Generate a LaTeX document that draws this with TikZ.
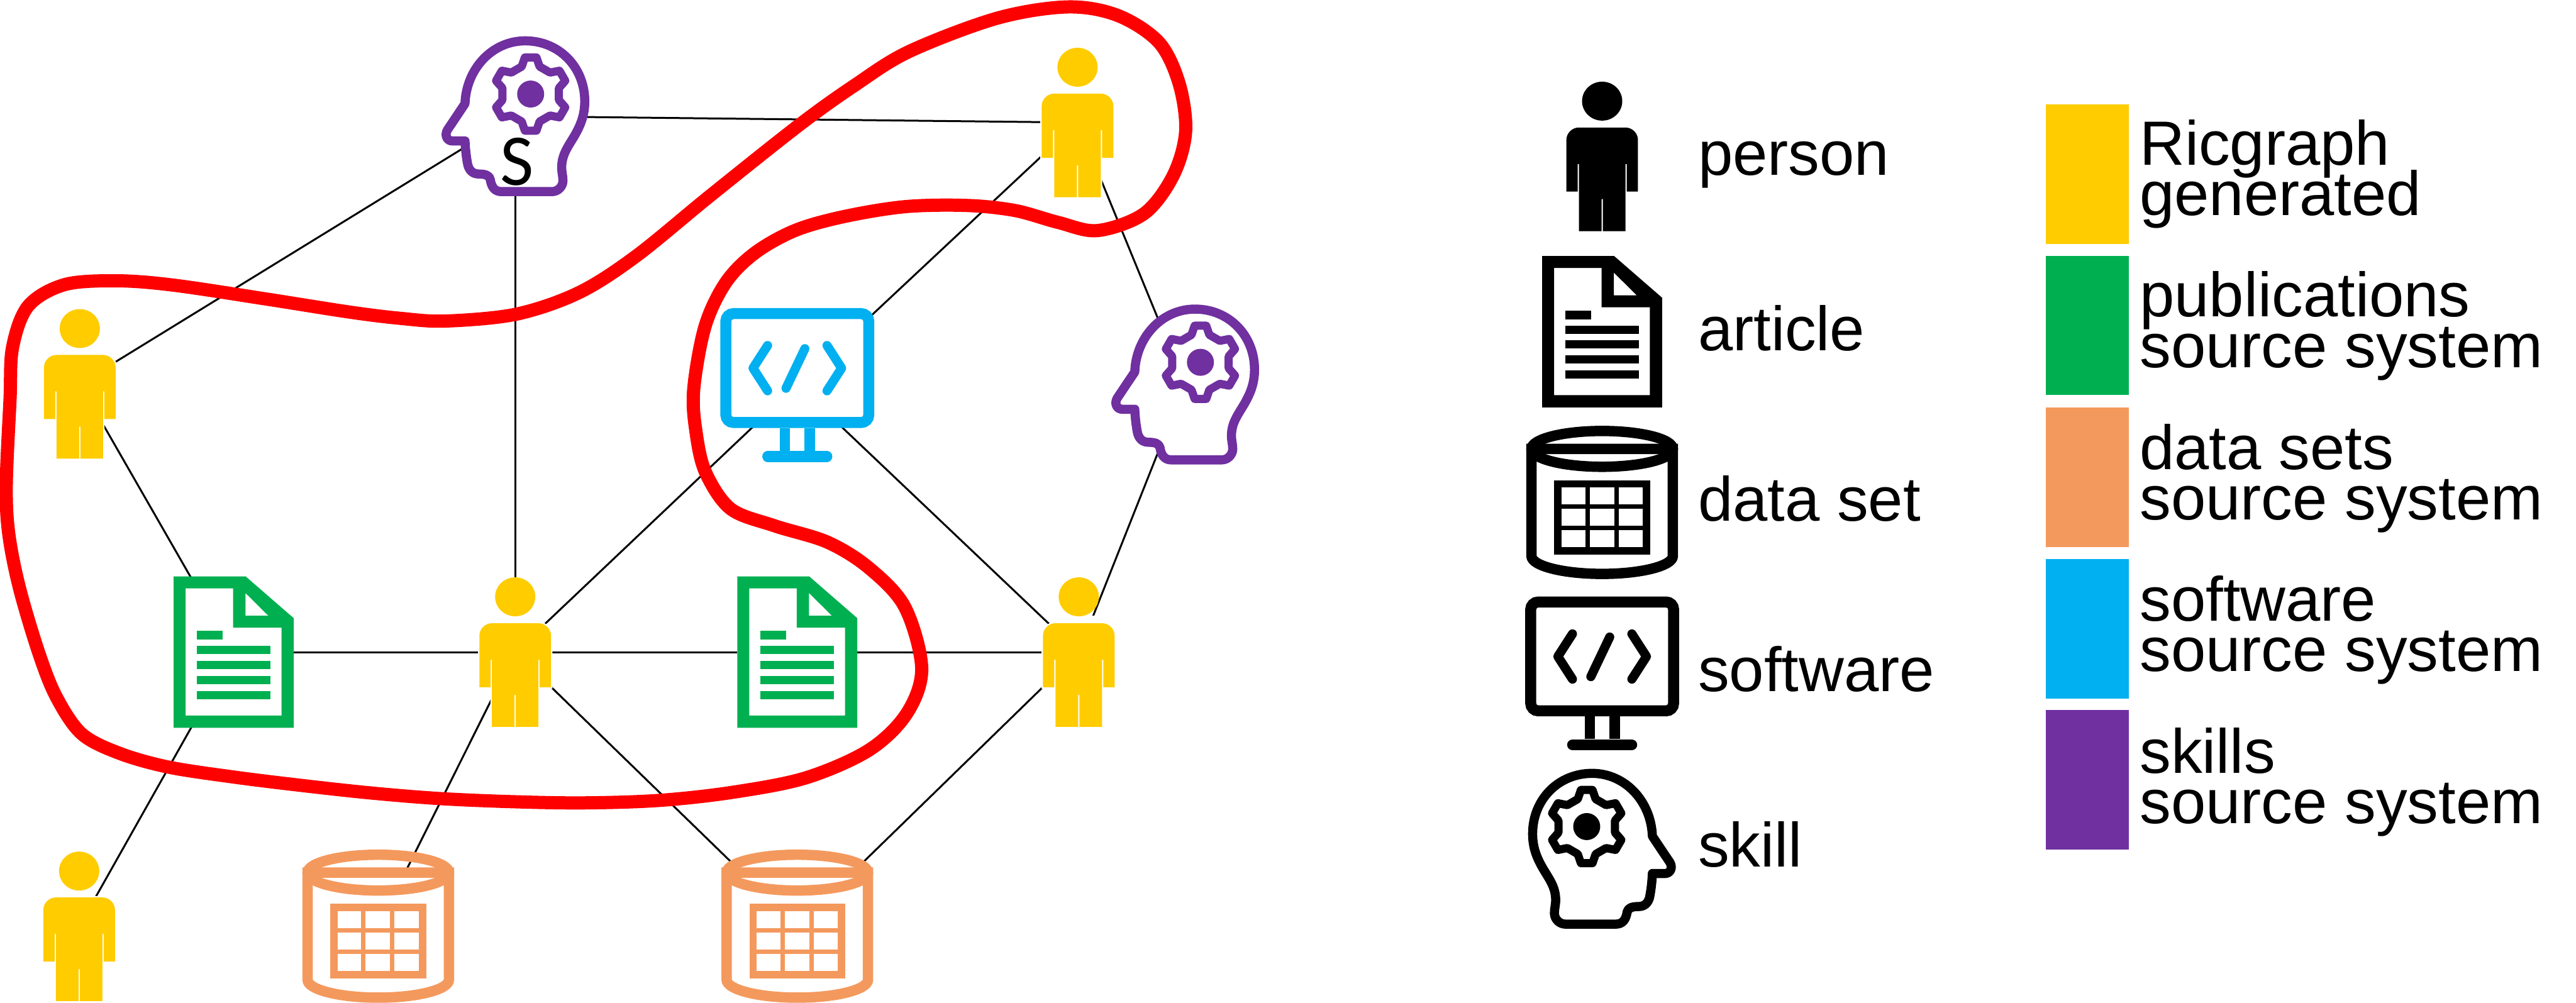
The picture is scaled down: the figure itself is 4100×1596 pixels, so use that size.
\documentclass[tikz,border=0pt]{standalone}
\usepackage{fontspec}
\setmainfont{Liberation Sans}
\newfontfamily\headfont{Carlito}
\usepackage{xcolor}
\definecolor{gold}{HTML}{FFCC00}
\definecolor{pubgreen}{HTML}{00B050}
\definecolor{dataorange}{HTML}{F4995D}
\definecolor{softblue}{HTML}{00B0F0}
\definecolor{skillpurple}{HTML}{7030A0}
\definecolor{loopred}{HTML}{FF0000}
\tikzset{
  link/.style={draw=black, line width=0.03cm},
  redloop/.style={draw=loopred, line width=0.21cm},
  personbox/.style={inner sep=0pt, minimum width=1.14cm, minimum height=2.38cm},
  articlebox/.style={inner sep=0pt, minimum width=1.91cm, minimum height=2.41cm},
  databox/.style={inner sep=0pt, minimum width=2.42cm, minimum height=2.43cm},
  monitorbox/.style={inner sep=0pt, minimum width=2.44cm, minimum height=2.45cm},
  headbox/.style={inner sep=0pt, minimum width=2.36cm, minimum height=2.55cm},
  swatch/.style={inner sep=0pt, minimum width=1.32cm, minimum height=2.22cm},
  labl/.style={inner sep=0pt, anchor=base west, font=\fontsize{28.3}{22.8}\selectfont},
  labr/.style={inner sep=0pt, anchor=base west, align=left, font={\fontsize{28.3}{22.8}\selectfont\lineskiplimit -100pt\relax}},
  pics/personicon/.style={code={
    \fill[white] (-25,-58) rectangle (25,-44);
    \fill[#1] (0,-88) ellipse [x radius=32, y radius=31];
    \fill[#1, preaction={draw=white, line width=0.045cm}]
      (-57,56) -- (-57,-26) .. controls (-57,-37) and (-48,-46) .. (-37,-46)
      -- (37,-46) .. controls (48,-46) and (57,-37) .. (57,-26) -- (57,56)
      -- (39,56) -- (39,12) -- (37,12) -- (37,119) -- (1,119) -- (1,68)
      -- (-1,68) -- (-1,119) -- (-37,119) -- (-37,12) -- (-39,12) -- (-39,56) -- cycle;
  }},
  pics/articleicon/.style={code={
    \fill[white] (-95.5,-120.5) rectangle (95.5,120.5);
    \fill[#1, even odd rule]
      (-95.5,-120.5) -- (19,-120.5) -- (95.5,-54) -- (95.5,120.5) -- (-95.5,120.5) -- cycle
      (-76.5,-101.5) -- (-1,-101.5) -- (-1,-39) -- (76,-39) -- (76,101) -- (-76.5,101) -- cycle
      (18.7,-94) -- (18.7,-58) -- (55,-58) -- cycle;
    \fill[#1] (-59,-34) rectangle (-18,-20);
    \fill[#1] (-59,-10) rectangle (58.5,3);
    \fill[#1] (-59,14) rectangle (58.5,27);
    \fill[#1] (-59,38) rectangle (58.5,51);
    \fill[#1] (-59,62) rectangle (58.5,75);
  }},
  pics/dataicon/.style={code={
    \filldraw[draw=#1, fill=white, line width=0.165cm]
      (-112.5,-85.5) -- (-112.5,85) .. controls (-112.5,100.7) and (-62,113.5) .. (0,113.5)
      .. controls (62,113.5) and (112.5,100.7) .. (112.5,85) -- (112.5,-85.5) -- cycle;
    \draw[#1, line width=0.165cm] (0,-85.5) ellipse [x radius=112.5, y radius=28.5];
    \draw[#1, line width=0.115cm] (-70.5,-30) rectangle (70.5,77);
    \draw[#1, line width=0.07cm] (-23.5,-30) -- (-23.5,77) (22.5,-30) -- (22.5,77)
      (-70.5,6.5) -- (70.5,6.5) (-70.5,40.5) -- (70.5,40.5);
  }},
  pics/monitoricon/.style={code={
    \filldraw[draw=#1, fill=white, line width=0.175cm, rounded corners=0.12cm]
      (-113.7,-113.3) rectangle (113.7,60);
    \fill[#1] (-28,69) rectangle (-12,105);
    \fill[#1] (11,69) rectangle (28,105);
    \draw[#1, line width=0.175cm, line cap=round] (-47,114) -- (47,114);
    \draw[#1, line width=0.145cm, line cap=round, line join=round]
      (-47.3,-62.5) -- (-70.5,-26.5) -- (-47.3,9.5)
      (47.3,-62.5) -- (70.5,-26.5) -- (47.3,9.5)
      (12,-57.5) -- (-18,5.5);
  }},
  pics/headicon/.style={code={
    \filldraw[draw=#1, fill=white, line width=0.145cm, line join=round]
      (-58.5,120) -- (21.9,120) .. controls (33,120) and (38,112) .. (39.7,100.7)
      .. controls (41,94) and (48,92) .. (57.6,92)
      .. controls (68,92) and (73,86) .. (75.4,77.7)
      .. controls (78,65) and (79.5,50) .. (79.9,39.4)
      -- (100,39.4) .. controls (108,39.4) and (113,31) .. (108,22)
      -- (79.9,-20)
      .. controls (78,-75) and (37,-120) .. (-16,-120)
      .. controls (-70,-120) and (-110.7,-78) .. (-110.7,-23.8)
      .. controls (-110.7,0) and (-103,16) .. (-94,31.8)
      .. controls (-83,50) and (-74,62) .. (-74,81.6)
      .. controls (-74,90) and (-76,95) .. (-76,102.6)
      .. controls (-76,112) and (-68,120) .. (-58.5,120) -- cycle;
    \begin{scope}[shift={(-24.6,-35.3)}]
      \draw[#1, line width=0.13cm, line join=round] (108:46)
        \foreach \a in {90,30,-30,-90,-150,-210} { -- (\a+18:46) -- (\a+9:59) -- (\a-9:59) -- (\a-18:46) } -- cycle;
      \fill[#1] (0,0) circle [radius=21.5];
    \end{scope}
  }}
}
\begin{document}
\begin{tikzpicture}[x=0.01cm, y=-0.01cm]
  \useasboundingbox (0,0) rectangle (4100,1596);
  \fill[white] (0,0) rectangle (4100,1596);

  % graph nodes
  \node[headbox] (headS) at (820,185) {};
  \node[personbox] (persTop) at (1715,195) {};
  \node[personbox] (persLeft) at (127,611) {};
  \node[monitorbox] (screen) at (1269,612.5) {};
  \node[headbox] (headR) at (1886,612) {};
  \node[articlebox] (artA) at (372,1038) {};
  \node[personbox] (persMid) at (820,1038) {};
  \node[articlebox] (artB) at (1269,1038) {};
  \node[personbox] (persRight) at (1717,1038) {};
  \node[personbox] (persLow) at (126,1474.5) {};
  \node[databox] (dataA) at (602,1474.5) {};
  \node[databox] (dataB) at (1269,1474.5) {};

  % connectors, icons go on top
  \draw[link] (headS.center) -- (persTop.center);
  \draw[link] (headS.center) -- (persLeft.center);
  \draw[link] (headS.center) -- (persMid.center);
  \draw[link] (persLeft.center) -- (artA.center);
  \draw[link] (artA.center) -- (persMid.center);
  \draw[link] (persMid.center) -- (artB.center);
  \draw[link] (artB.center) -- (persRight.center);
  \draw[link] (artA.center) -- (persLow.center);
  \draw[link] (persMid.center) -- (screen.center);
  \draw[link] (persTop.center) -- (screen.center);
  \draw[link] (screen.center) -- (persRight.center);
  \draw[link] (persMid.center) -- (dataA.center);
  \draw[link] (persMid.center) -- (dataB.center);
  \draw[link] (persRight.center) -- (dataB.center);
  \draw[link] (persRight.center) -- (headR.center);
  \draw[link] (persTop.center) -- (headR.center);

  \pic[xscale=-1] at (headS) {headicon=skillpurple};
  \node[inner sep=0pt, font=\headfont\fontsize{33}{33}\selectfont] (letterS) at (822.5,258) {S};
  \pic[xscale=-1] at (headR) {headicon=skillpurple};
  \pic at (persTop) {personicon=gold};
  \pic at (persLeft) {personicon=gold};
  \pic at (persMid) {personicon=gold};
  \pic at (persRight) {personicon=gold};
  \pic at (persLow) {personicon=gold};
  \pic at (screen) {monitoricon=softblue};
  \pic at (artA) {articleicon=pubgreen};
  \pic at (artB) {articleicon=pubgreen};
  \pic at (dataA) {dataicon=dataorange};
  \pic at (dataB) {dataicon=dataorange};

  % the red selection
  \draw[redloop] plot[smooth cycle, tension=0.55] coordinates {
    (1700,11) (1780,25) (1845,68) (1877,134) (1887,210) (1867,280) (1821,340)
    (1747,367) (1684,354) (1615,335) (1538,327) (1440,329) (1342,345) (1265,367)
    (1201,403) (1155,450) (1122,520) (1104,621) (1108,689) (1123,752) (1163,810)
    (1233,837) (1317,863) (1383,904) (1440,966) (1467,1064) (1443,1136) (1383,1194)
    (1283,1238) (1167,1261) (1050,1274) (928,1278) (813,1276) (698,1271) (588,1262)
    (478,1250) (373,1237) (268,1221) (190,1199) (130,1168) (90,1110) (62,1040)
    (31,936) (14,850) (10,772) (16,635) (20,553) (45,487) (103,453) (187,447)
    (277,454) (424,476) (558,497) (640,507) (710,511) (822,500) (921,466)
    (1012,408) (1131,311) (1272,199) (1360,136) (1447,82) (1587,29)};

  % icon legend
  \node[personbox] (legPerson) at (2550,249) {};
  \node[articlebox] (legArticle) at (2550,528) {};
  \node[databox] (legData) at (2550,800) {};
  \node[monitorbox] (legSoft) at (2550,1071.5) {};
  \node[headbox] (legSkill) at (2550,1351) {};
  \pic at (legPerson) {personicon=black};
  \pic at (legArticle) {articleicon=black};
  \pic at (legData) {dataicon=black};
  \pic at (legSoft) {monitoricon=black};
  \pic at (legSkill) {headicon=black};
  \node[labl] (txtPerson) at (2702,278.6) {person};
  \node[labl] (txtArticle) at (2702,557.6) {article};
  \node[labl] (txtData) at (2702,829.6) {data set};
  \node[labl] (txtSoft) at (2702,1100.8) {software};
  \node[labl] (txtSkill) at (2702,1379.7) {skill};

  % colour legend
  \node[swatch, fill=gold] (swGen) at (3322,277) {};
  \node[swatch, fill=pubgreen] (swPub) at (3322,518) {};
  \node[swatch, fill=dataorange] (swData) at (3322,759.5) {};
  \node[swatch, fill=softblue] (swSoft) at (3322,1000.5) {};
  \node[swatch, fill=skillpurple] (swSkill) at (3322,1241.5) {};
  \node[labr] (txtGen) at (3405,343) {Ricgraph\\generated};
  \node[labr] (txtPub) at (3405,584.6) {publications\\source system};
  \node[labr] (txtSets) at (3405,827.4) {data sets\\source system};
  \node[labr] (txtSw) at (3405,1069) {software\\source system};
  \node[labr] (txtSk) at (3405,1311) {skills\\source system};
\end{tikzpicture}
\end{document}
